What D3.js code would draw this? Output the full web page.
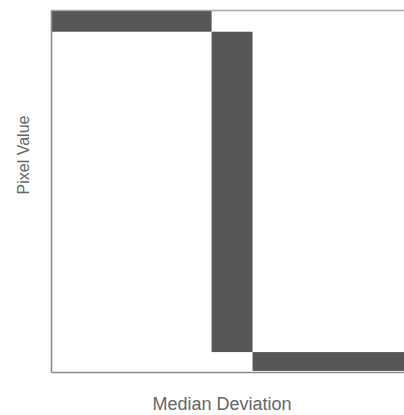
<!DOCTYPE html>
<html>
<head>
<meta charset="utf-8">
<script src="https://cdn.jsdelivr.net/npm/d3@7"></script>
<style>
  html, body { margin: 0; padding: 0; background: #fff; }
  svg { display: block; }
</style>
</head>
<body>
<script>
// Step response: pixel value held high, a transition band, then held low.
const segmentNames = ["high", "transition", "low"];
const segmentX0 = [0, 45.5, 57.1];     // median deviation, start of each band
const segmentX1 = [45.5, 57.1, 100];   // median deviation, end of each band
const segmentY0 = [94.0, 5.5, 0.3];    // pixel value, lower edge
const segmentY1 = [99.7, 94.0, 5.5];   // pixel value, upper edge
const xTitle = "Median Deviation";
const yTitle = "Pixel Value";

const W = 404, H = 415;
const margin = { left: 51, right: 0, top: 10, bottom: 43 };

const svg = d3.select("body").append("svg")
  .attr("width", W).attr("height", H);

const x = d3.scaleLinear().domain([0, 100]).range([margin.left, W - margin.right]);
const y = d3.scaleLinear().domain([0, 100]).range([H - margin.bottom, margin.top]);

const segments = segmentNames.map((name, i) => ({
  name, x0: segmentX0[i], x1: segmentX1[i], y0: segmentY0[i], y1: segmentY1[i]
}));

// faint top frame line
svg.append("line")
  .attr("x1", x(0)).attr("x2", x(100))
  .attr("y1", y(100) + 0.5).attr("y2", y(100) + 0.5)
  .attr("stroke", "#a8a8a8").attr("stroke-width", 1.5);

// bands
svg.append("g").selectAll("rect")
  .data(segments)
  .join("rect")
  .attr("x", d => x(d.x0))
  .attr("width", d => x(d.x1) - x(d.x0))
  .attr("y", d => y(d.y1))
  .attr("height", d => y(d.y0) - y(d.y1))
  .attr("fill", "#575757");

// axes drawn as plain lines (no ticks)
const xAxis = d3.axisBottom(x).tickValues([]).tickSizeOuter(0);
const yAxis = d3.axisLeft(y).tickValues([]).tickSizeOuter(0);

svg.append("g")
  .attr("transform", `translate(0,${y(0)})`)
  .call(xAxis)
  .call(g => g.select(".domain").attr("stroke", "#8c8c8c").attr("stroke-width", 1.6));

svg.append("g")
  .attr("transform", `translate(${x(0)},0)`)
  .call(yAxis)
  .call(g => g.select(".domain").attr("stroke", "#8c8c8c").attr("stroke-width", 1.6));

// titles
svg.append("text")
  .attr("x", 222).attr("y", 410)
  .attr("text-anchor", "middle")
  .attr("font-family", "Liberation Sans, Arial, sans-serif")
  .attr("font-size", 18)
  .attr("fill", "#666")
  .text(xTitle);

svg.append("text")
  .attr("transform", `translate(29,155) rotate(-90)`)
  .attr("text-anchor", "middle")
  .attr("font-family", "Liberation Sans, Arial, sans-serif")
  .attr("font-size", 16)
  .attr("fill", "#666")
  .text(yTitle);
</script>
</body>
</html>
